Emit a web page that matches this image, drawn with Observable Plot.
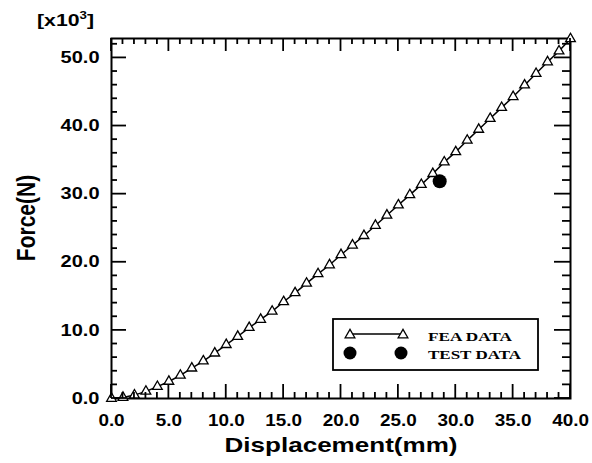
<!DOCTYPE html>
<html><head><meta charset="utf-8">
<script src="https://cdn.jsdelivr.net/npm/d3@7"></script>
<script src="https://cdn.jsdelivr.net/npm/@observablehq/plot@0.6"></script>
<style>
html,body{margin:0;padding:0;background:#fff;}
#chart{width:592px;height:463px;position:relative;}
</style></head><body><div id="chart"></div>
<script>
// FEA data (displacement in mm, force in N x10^3)
const feaDisplacement = [0,1,2,3,4,5,6,7,8,9,10,11,12,13,14,15,16,17,18,19,20,21,22,23,24,25,26,27,28,29,30,31,32,33,34,35,36,37,38,39,40];
const feaForce = [0,0.15,0.5,1.05,1.75,2.5,3.4,4.45,5.5,6.65,7.9,9.1,10.4,11.6,12.8,14.2,15.5,16.9,18.3,19.6,21.1,22.5,23.9,25.4,26.9,28.4,29.9,31.4,33.0,34.7,36.2,37.9,39.5,41.1,42.7,44.3,46.0,47.7,49.4,51.0,52.8];
// Test data
const testDisplacement = [28.6];
const testForce = [31.9];
// Ticks and labels
const xMajorTicks = [0,5,10,15,20,25,30,35,40];
const xTickLabels = ["0.0","5.0","10.0","15.0","20.0","25.0","30.0","35.0","40.0"];
const yMajorTicks = [0,10,20,30,40,50];
const yTickLabels = ["0.0","10.0","20.0","30.0","40.0","50.0"];
const xTitle = "Displacement(mm)";
const yTitle = "Force(N)";
const yMultiplierBase = "[x10";
const yMultiplierExp = "3";
const legendLabels = ["FEA DATA","TEST DATA"];

const fea = feaDisplacement.map((x, i) => ({x, y: feaForce[i]}));
const test = testDisplacement.map((x, i) => ({x, y: testForce[i]}));
const xMinor = d3.range(0, 41, 1).filter(d => d % 5 !== 0);
const yMinor = d3.range(0, 53, 2).filter(d => d % 10 !== 0);
const lab = {tickSize: 0, fontSize: 16, fontWeight: "bold", label: null};
const xDomain = [0, 40], yDomain = [0, 52.85];

const svg = Plot.plot({
  width: 592, height: 463,
  marginLeft: 111, marginRight: 22, marginTop: 38, marginBottom: 65,
  style: {background: "#fff", color: "#000", fontFamily: "'Liberation Sans', Arial, sans-serif", overflow: "visible"},
  x: {domain: xDomain},
  y: {domain: yDomain},
  marks: [
    Plot.axisX({anchor: "bottom", ticks: xMajorTicks, tickPadding: 16, tickFormat: d => xTickLabels[xMajorTicks.indexOf(d)], ...lab}),
    Plot.axisY({anchor: "left", ticks: yMajorTicks, tickPadding: 12, tickFormat: d => yTickLabels[yMajorTicks.indexOf(d)], ...lab}),
    Plot.frame({stroke: "#000", strokeWidth: 2}),
    Plot.line(fea, {x: "x", y: "y", stroke: "#000", strokeWidth: 1.5}),
    Plot.dot(fea, {x: "x", y: "y", symbol: "triangle", r: 3.6, fill: "#fff", stroke: "#000", strokeWidth: 1.3}),
    Plot.dot(test, {x: "x", y: "y", r: 7, fill: "#000"})
  ]
});
document.getElementById("chart").appendChild(svg);

const s = d3.select(svg);
// inward ticks on all four sides, positioned with Plot's own scales
let X, Y;
try {
  const sx = svg.scale("x"), sy = svg.scale("y");
  X = v => sx.apply(v); Y = v => sy.apply(v);
  if (!isFinite(X(1))) throw new Error("scale");
} catch (e) {
  const fx = d3.scaleLinear(xDomain, [111, 570]), fy = d3.scaleLinear(yDomain, [398, 38]);
  X = fx; Y = fy;
}
const xL = X(0), xR = X(40), yB = Y(0), yT = Y(yDomain[1]);
const tg = s.append("g").attr("stroke", "#000").attr("stroke-width", 1.8);
const seg = (x1, y1, x2, y2) => tg.append("line").attr("x1", x1).attr("y1", y1).attr("x2", x2).attr("y2", y2);
xMinor.forEach(v => { seg(X(v), yB, X(v), yB - 6); seg(X(v), yT, X(v), yT + 6); });
xMajorTicks.forEach(v => { seg(X(v), yB, X(v), yB - 14); seg(X(v), yT, X(v), yT + 13); });
yMinor.forEach(v => { seg(xL, Y(v), xL + 6, Y(v)); seg(xR, Y(v), xR - 8, Y(v)); });
yMajorTicks.forEach(v => { seg(xL, Y(v), xL + 15, Y(v)); seg(xR, Y(v), xR - 16, Y(v)); });

// stretch tick labels horizontally
s.selectAll('g[aria-label="x-axis tick label"] text').each(function() {
  const l = this.getComputedTextLength();
  if (l > 0) d3.select(this).attr("textLength", l * 1.18).attr("lengthAdjust", "spacingAndGlyphs");
});
s.selectAll('g[aria-label="y-axis tick label"] text').each(function() {
  const l = this.getComputedTextLength();
  if (l > 0) d3.select(this).attr("textLength", l * 1.25).attr("lengthAdjust", "spacingAndGlyphs");
});

const font = "'Liberation Sans', Arial, sans-serif";
// axis titles
s.append("text").attr("x", 341).attr("y", 452).attr("text-anchor", "middle")
  .attr("font-family", font).attr("font-size", 21).attr("font-weight", "bold")
  .attr("textLength", 233).attr("lengthAdjust", "spacingAndGlyphs").text(xTitle);
s.append("text").attr("transform", "translate(35,218) rotate(-90) scale(1,1.24)").attr("text-anchor", "middle")
  .attr("font-family", font).attr("font-size", 21).attr("font-weight", "bold").text(yTitle);
// multiplier
const m = s.append("text").attr("x", 37).attr("y", 26).attr("text-anchor", "start").attr("font-family", font).attr("font-size", 16).attr("font-weight", "bold")
  .attr("textLength", 57).attr("lengthAdjust", "spacingAndGlyphs");
m.append("tspan").text(yMultiplierBase);
m.append("tspan").attr("dy", -7).attr("font-size", 10).text(yMultiplierExp);
m.append("tspan").attr("dy", 7).text("]");

// legend
const g = s.append("g").attr("text-anchor", "start");
g.append("rect").attr("x", 333).attr("y", 319).attr("width", 205).attr("height", 51)
  .attr("fill", "#fff").attr("stroke", "#000").attr("stroke-width", 1.8);
g.append("line").attr("x1", 350).attr("x2", 403).attr("y1", 334).attr("y2", 334).attr("stroke", "#000").attr("stroke-width", 1.5);
const tri = d3.symbol(d3.symbolTriangle, Math.PI * 3.6 * 3.6)();
[350, 403].forEach(x => g.append("path").attr("d", tri).attr("transform", `translate(${x},335)`)
  .attr("fill", "#fff").attr("stroke", "#000").attr("stroke-width", 1.3));
[350, 401].forEach(x => g.append("circle").attr("cx", x).attr("cy", 353).attr("r", 6.5).attr("fill", "#000"));
const legendFont = "'Liberation Serif', 'Times New Roman', serif";
[[legendLabels[0], 341, 84], [legendLabels[1], 358.5, 93]].forEach(([t, y, w]) =>
  g.append("text").attr("x", 428).attr("y", y).attr("text-anchor", "start").attr("font-family", legendFont).attr("font-size", 12.5)
    .attr("font-weight", "bold").attr("textLength", w).attr("lengthAdjust", "spacingAndGlyphs").text(t));
</script></body></html>
